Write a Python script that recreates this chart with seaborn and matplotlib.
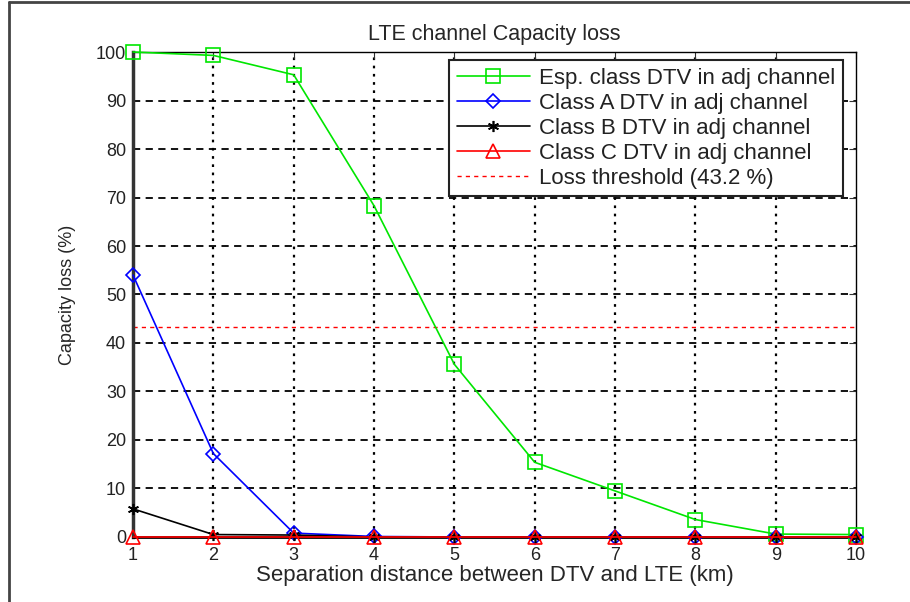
import numpy as np
import pandas as pd
import matplotlib
matplotlib.use("Agg")
import matplotlib.pyplot as plt
import seaborn as sns
from matplotlib.lines import Line2D

# datos
distancia_km = [1, 2, 3, 4, 5, 6, 7, 8, 9, 10]
perdida_esp = [100, 99.3, 95.3, 68.3, 35.6, 15.4, 9.5, 3.6, 0.6, 0.5]
perdida_a = [54.0, 17.2, 0.8, 0.1, 0.0, 0.0, 0.0, 0.0, 0.0, 0.0]
perdida_b = [5.8, 0.5, 0.4, 0.0, 0.0, 0.0, 0.0, 0.0, 0.0, 0.0]
perdida_c = [0.0, 0.0, 0.0, 0.0, 0.0, 0.0, 0.0, 0.0, 0.0, 0.0]
umbral = 43.2

etiquetas = ["Esp. class DTV in adj channel", "Class A DTV in adj channel",
             "Class B DTV in adj channel", "Class C DTV in adj channel"]

sns.set_style("white")
plt.rcParams['font.family'] = ['Liberation Sans', 'DejaVu Sans']

fig = plt.figure(figsize=(9.1, 6.02), dpi=100)
ax = fig.add_axes([0.1462, 0.108, 0.7945, 0.8056])

series = [
    (perdida_esp, "#00e600", "s", 10),
    (perdida_a, "#0000ff", "D", 7),
    (perdida_b, "#000000", (6, 2, 0), 8),
    (perdida_c, "#ff0000", "^", 10),
]
handles = []
for (vals, color, marker, ms), lab in zip(series, etiquetas):
    df = pd.DataFrame({"x": distancia_km, "y": vals})
    sns.lineplot(data=df, x="x", y="y", ax=ax, color=color, marker=marker,
                 markersize=ms, markerfacecolor="none", markeredgecolor=color,
                 markeredgewidth=1.2, linewidth=1.2, clip_on=False, zorder=3)
    handles.append(Line2D([], [], color=color, marker=marker, markersize=ms,
                          markerfacecolor="none", markeredgecolor=color,
                          markeredgewidth=1.2, linewidth=1.2, label=lab))

ax.axhline(umbral, color="#ff0000", linestyle=(0, (3, 3)), linewidth=1)
handles.append(Line2D([], [], color="#ff0000", linestyle=(0, (3, 3)),
                      linewidth=1, label="Loss threshold (43.2 %)"))

ax.set_xlim(1, 10)
ax.set_ylim(0, 100)
ax.set_xticks(distancia_km)
ax.set_yticks(np.arange(0, 101, 10))
ax.tick_params(direction="in", length=5, top=True, right=True,
               labelsize=13, colors="#333333", labelcolor="#222222")
ax.tick_params(axis="x", pad=7)
ax.tick_params(axis="y", pad=5)

for yv in np.arange(10, 100, 10):
    ax.axhline(yv, color="black", linestyle=(0, (4, 3)), linewidth=1.3, zorder=0.5)
for xv in distancia_km[1:-1]:
    ax.axvline(xv, color="black", linestyle=(0, (1.2, 2.5)), linewidth=1.6, zorder=0.5)

for s in ax.spines.values():
    s.set_color("black")
    s.set_linewidth(1)
ax.spines["left"].set_linewidth(2.5)
ax.spines["left"].set_color("#333333")
ax.spines["bottom"].set_linewidth(2)

ax.set_title("LTE channel Capacity loss", fontsize=15.5, pad=9)
ax.set_xlabel("Separation distance between DTV and LTE (km)", fontsize=16, labelpad=1)
ax.set_ylabel("Capacity loss (%)", fontsize=13, labelpad=14)

leg = ax.legend(handles=handles, loc="upper right", bbox_to_anchor=(0.982, 0.984),
                fontsize=16, frameon=True, fancybox=False, shadow=False,
                handlelength=3.3, handletextpad=0.4, borderpad=0.35,
                labelspacing=0.18, borderaxespad=0)
leg.get_frame().set_edgecolor("#222222")
leg.get_frame().set_linewidth(1.5)
leg.get_frame().set_alpha(1)
for t in leg.get_texts():
    t.set_color("#222222")

# marco exterior de la imagen
fig.add_artist(Line2D([0.01, 0.01], [0, 0.997], transform=fig.transFigure,
                      color="#444444", linewidth=2))
fig.add_artist(Line2D([0.01, 1], [0.997, 0.997], transform=fig.transFigure,
                      color="#444444", linewidth=2))

fig.savefig("out.png", dpi=100)
